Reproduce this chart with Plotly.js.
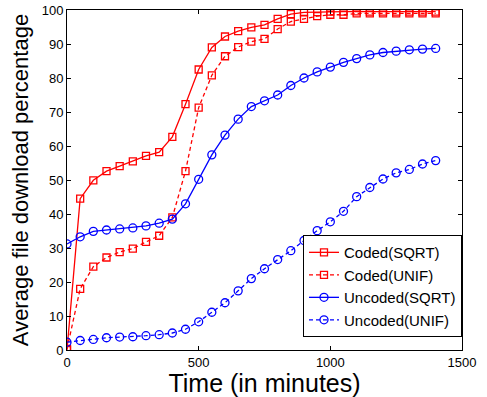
<!DOCTYPE html>
<html>
<head>
<meta charset="utf-8">
<script src="https://cdn.plot.ly/plotly-3.0.1.min.js"></script>
<style>html,body{margin:0;padding:0;background:#fff;}#chart{width:487px;height:397px;}</style>
</head>
<body>
<div id="chart"></div>
<script>
var time = [0,50,100,150,200,250,300,350,400,450,500,550,600,650,700,750,800,850,900,950,1000,1050,1100,1150,1200,1250,1300,1350,1400];
var codedSqrt = [0,44.5,49.9,52.6,54.1,55.5,57.1,58.2,62.7,72.3,82.5,89.0,92.2,93.8,94.9,95.6,97.4,98.8,99.3,99.4,99.5,99.5,99.6,99.5,99.5,99.5,99.5,99.5,99.5];
var codedUnif = [0.3,18.0,24.5,27.2,28.8,29.8,31.8,33.6,39.0,52.6,71.3,80.8,86.4,89.1,90.7,91.5,94.4,96.6,97.4,98.2,98.6,98.6,99.0,99.0,99.0,99.0,99.0,99.0,99.0];
var uncodedSqrt = [31.2,33.3,34.9,35.3,35.6,35.9,36.5,37.3,38.5,43.0,50.2,57.4,63.2,67.9,71.6,73.3,75.0,77.8,80.0,81.8,83.2,84.6,85.7,86.8,87.5,87.9,88.3,88.5,88.7];
var uncodedUnif = [2.3,2.8,3.1,3.6,3.8,3.9,4.2,4.5,5.0,6.1,8.3,11.1,13.9,17.4,21.0,23.9,26.6,29.2,32.2,35.1,37.7,40.8,45.1,47.8,50.3,52.1,53.1,54.7,55.7];
var seriesNames = ["Coded(SQRT)","Coded(UNIF)","Uncoded(SQRT)","Uncoded(UNIF)"];
var xTicks = [0,500,1000,1500];
var yTicks = [0,10,20,30,40,50,60,70,80,90,100];

var RED = "#ff0000", BLUE = "#0000ff";
function tr(y, name, color, dash, sym, size) {
  return {
    x: time, y: y, name: name, type: "scatter", mode: "lines+markers",
    line: {color: color, width: 1.3, dash: dash},
    marker: {symbol: sym, size: size, color: color, line: {color: color, width: 1.3}}
  };
}
var data = [
  tr(codedSqrt, seriesNames[0], RED, "solid", "square-open", 7),
  tr(codedUnif, seriesNames[1], RED, "4px,3px", "square-open", 7),
  tr(uncodedSqrt, seriesNames[2], BLUE, "solid", "circle-open", 8),
  tr(uncodedUnif, seriesNames[3], BLUE, "4px,3px", "circle-open", 8)
];
var fontFam = "Liberation Sans, Arial, sans-serif";
var layout = {
  width: 487, height: 397,
  margin: {l: 66.5, r: 25, t: 10, b: 47},
  paper_bgcolor: "#fff", plot_bgcolor: "#fff",
  font: {family: fontFam, color: "#000", size: 13},
  showlegend: true,
  xaxis: {
    range: [0, 1500], tickvals: xTicks, ticktext: xTicks.map(String),
    ticks: "inside", ticklen: 4, tickcolor: "#000", showline: true, linecolor: "#000", linewidth: 1,
    mirror: "ticks", showgrid: false, zeroline: false, automargin: false,
    tickfont: {size: 13, family: fontFam},
    title: {text: "Time (in minutes)", font: {size: 25, family: fontFam}, standoff: 8}
  },
  yaxis: {
    range: [0, 100], tickvals: yTicks, ticktext: yTicks.map(String),
    ticks: "inside", ticklen: 4, tickcolor: "#000", showline: true, linecolor: "#000", linewidth: 1,
    mirror: "ticks", showgrid: false, zeroline: false, automargin: false,
    tickfont: {size: 13, family: fontFam},
    title: {text: "Average file download percentage", font: {size: 22, family: fontFam}, standoff: 6}
  },
  legend: {
    x: 1, xanchor: "right", y: 0.038, yanchor: "bottom",
    bgcolor: "#fff", bordercolor: "#000", borderwidth: 1,
    font: {size: 15, family: fontFam}
  }
};
Plotly.newPlot("chart", data, layout, {displayModeBar: false, staticPlot: true});
</script>
</body>
</html>
